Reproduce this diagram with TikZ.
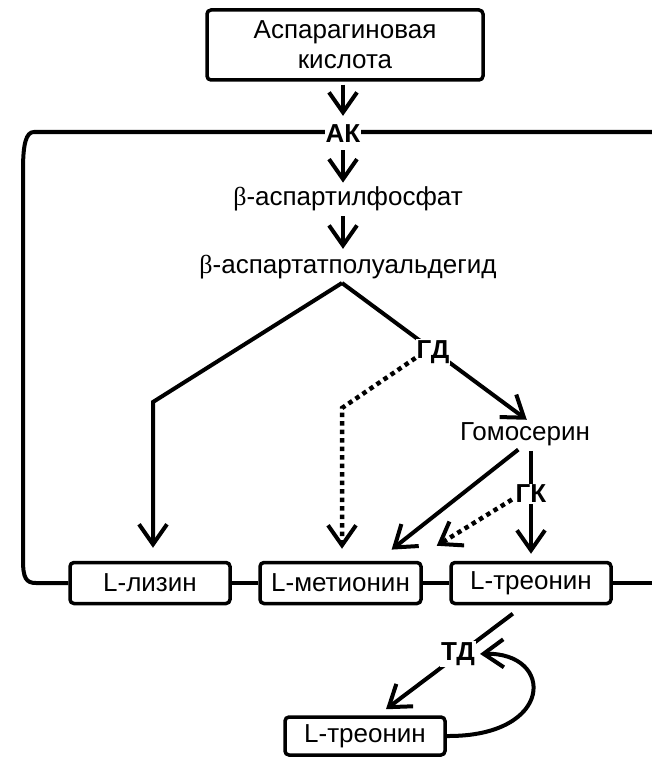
\documentclass[tikz,border=0pt]{standalone}
\usepackage{fontspec}
\setmainfont{Liberation Sans}
\newfontfamily\betafont{Liberation Serif}
\usetikzlibrary{arrows.meta}
\begin{document}
\begin{tikzpicture}[x=1pt,y=-1pt,
  box/.style={draw, line width=3.5pt, rounded corners=4pt, minimum height=41pt, minimum width=160pt, inner sep=0pt, font=\fontsize{26}{30}\selectfont},
  lbl/.style={inner sep=0pt, font=\fontsize{26}{30}\selectfont},
  enz/.style={font=\bfseries\fontsize{26}{28}\selectfont, fill=white, inner sep=1pt},
  arr/.style={line width=4pt, -{Straight Barb[length=20pt,width=28pt]}},
  dotarr/.style={line width=4.5pt, dash pattern=on 4.5pt off 4pt, -{Straight Barb[length=20pt,width=28pt,line width=4pt]}},
  frame/.style={line width=4pt},
  ]
\useasboundingbox (0,0) rectangle (652,757);

% nodes
\node[box, minimum width=276pt, minimum height=70pt, align=center] (asp) at (345,45) {Аспарагиновая\\кислота};
\node[lbl] (f1) at (348,199) {{\betafont β}-аспартилфосфат};
\node[lbl] (f2) at (348,267) {{\betafont β}-аспартатполуальдегид};
\node[lbl] (hom) at (525,434) {Гомосерин};
\node[box] (lys) at (150,583) {L-лизин};
\node[box, minimum width=161pt] (met) at (340.5,583) {L-метионин};
\node[box] (thr) at (531,583) {L-треонин};
\node[box, minimum height=38pt] (thr2) at (365,736) {L-треонин};

\coordinate (apex) at (342,283);
\coordinate (bendL) at (153,402);
\coordinate (bendD) at (342,408);
\coordinate (rightTop) at (652,132);
\coordinate (rightBot) at (652,583);

% feedback frame
\draw[frame] (lys.west) -- (36,583) .. controls (26,583) and (23,578) .. (23,560) -- (23,170) .. controls (23,144) and (26,132) .. (34,132) -- (rightTop);
\draw[frame] (lys.east) -- (met.west);
\draw[frame] (met.east) -- (thr.west);
\draw[frame] (thr.east) -- (rightBot);

% enzyme AK
\node[enz] (ak) at (343,134) {АК};
\draw[arr, shorten <=3pt, shorten >=8pt] (asp.south -| ak.center) -- (ak.north);
\draw[arr, shorten <=6pt, shorten >=4pt] (ak.south) -- (f1.north -| ak.center);
\draw[arr, shorten <=5pt, shorten >=6pt] (f1.south -| ak.center) -- (f2.north -| ak.center);

% branches
\draw[arr] (apex) -- (bendL) -- ([xshift=3pt,yshift=13pt]lys.north);
\draw[arr, shorten >=4pt] (apex) -- ([xshift=5pt]hom.north);
\node[enz] (gd) at (433,352) {ГД};
\draw[dotarr, shorten >=12pt] ([yshift=-6pt]gd.west) -- (bendD) -- (met.north -| bendD);

\draw[arr, shorten <=6pt, shorten >=18pt] ([xshift=-2pt]hom.south) -- ([xshift=37pt]met.north);
\draw[arr, shorten <=5pt, shorten >=7pt] (hom.south -| thr.north) -- (thr.north);
\node[enz] (gk) at (531,494) {ГК};
\draw[dotarr, shorten <=3pt] ([yshift=-4pt]gk.west) -- ([xshift=14pt,yshift=15pt]met.north east);

% threonine deaminase
\draw[arr, shorten <=14pt, shorten >=10pt] ([xshift=-7pt]thr.south) -- ([xshift=13pt]thr2.north);
\node[enz] (td) at (458,654) {ТД};
\draw[arr, shorten >=4pt] (thr2.east) .. controls (555,737) and (555,652) .. (td.east);
\end{tikzpicture}
\end{document}
